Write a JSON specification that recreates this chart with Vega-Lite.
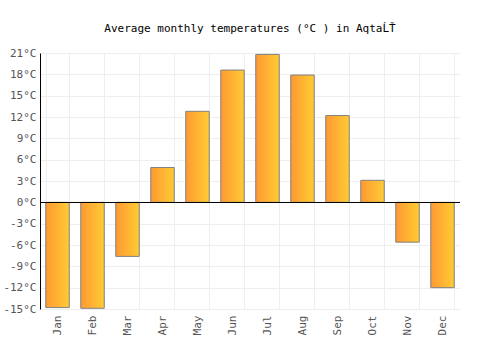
{
  "$schema": "https://vega.github.io/schema/vega-lite/v6.json",
  "autosize": "none",
  "width": 420,
  "height": 256,
  "padding": {"left": 40, "top": 53, "right": 40, "bottom": 41},
  "background": "white",
  "title": {
    "text": "Average monthly temperatures (°C ) in AqtaĹŤ",
    "font": "DejaVu Sans Mono",
    "fontSize": 11,
    "fontWeight": "normal",
    "color": "#000000",
    "anchor": "middle",
    "offset": 13
  },
  "config": {
    "view": {"stroke": null},
    "axis": {
      "labelFont": "DejaVu Sans Mono",
      "labelFontSize": 11,
      "labelColor": "#555555",
      "gridColor": "#eeeeee",
      "gridWidth": 1,
      "ticks": false,
      "title": null
    }
  },
  "data": {
    "values": [
      {"month": "Jan", "temp": -14.8},
      {"month": "Feb", "temp": -14.9},
      {"month": "Mar", "temp": -7.6},
      {"month": "Apr", "temp": 4.9},
      {"month": "May", "temp": 12.8},
      {"month": "Jun", "temp": 18.6},
      {"month": "Jul", "temp": 20.8},
      {"month": "Aug", "temp": 17.9},
      {"month": "Sep", "temp": 12.2},
      {"month": "Oct", "temp": 3.1},
      {"month": "Nov", "temp": -5.6},
      {"month": "Dec", "temp": -12.0}
    ]
  },
  "layer": [
    {
      "mark": {
        "type": "bar",
        "stroke": "#808080",
        "strokeWidth": 1,
        "fill": {
          "gradient": "linear",
          "x1": 0, "y1": 0, "x2": 1, "y2": 0,
          "stops": [
            {"offset": 0, "color": "#ff9933"},
            {"offset": 1, "color": "#ffcc33"}
          ]
        }
      },
      "encoding": {
        "x": {
          "field": "month",
          "type": "nominal",
          "sort": null,
          "scale": {"paddingInner": 0.33, "paddingOuter": 0.165},
          "axis": {
            "labelAngle": -90,
            "grid": true,
            "tickBand": "extent",
            "domain": false,
            "labelPadding": 6,
            "labelOverlap": false
          }
        },
        "y": {
          "field": "temp",
          "type": "quantitative",
          "scale": {"domain": [-15, 21], "nice": false, "zero": false},
          "axis": {
            "values": [-15, -12, -9, -6, -3, 0, 3, 6, 9, 12, 15, 18, 21],
            "tickCount": 20,
            "labelExpr": "datum.value + '°C'",
            "labelOverlap": false,
            "grid": true,
            "domain": true,
            "domainColor": "#000000",
            "labelPadding": 4
          }
        }
      }
    },
    {
      "mark": {"type": "rule", "color": "#000000", "strokeWidth": 1, "yOffset": 0.17},
      "encoding": {"y": {"datum": 0, "type": "quantitative"}}
    }
  ]
}
